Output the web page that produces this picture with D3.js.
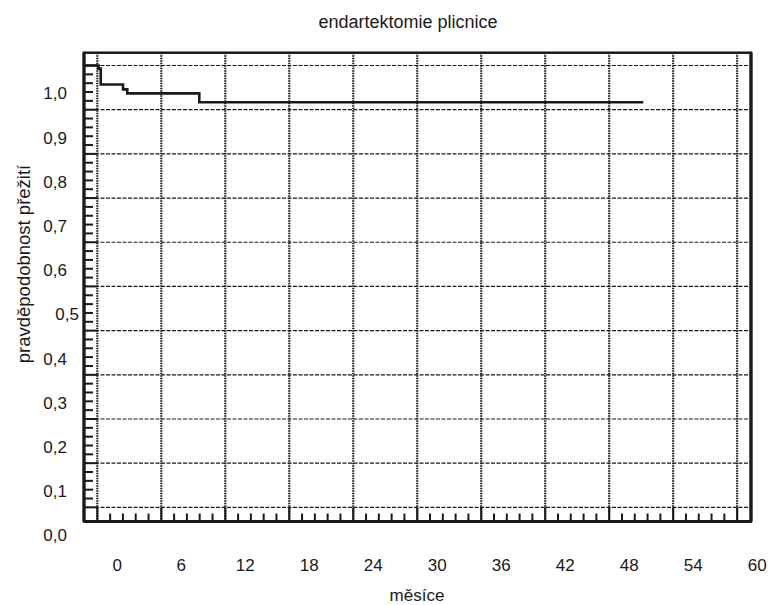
<!DOCTYPE html>
<html>
<head>
<meta charset="utf-8">
<script src="https://cdn.jsdelivr.net/npm/d3@7"></script>
<style>
  body { margin: 0; background: #fff; }
  text { font-family: "Liberation Sans", Arial, sans-serif; fill: #1a1a1a; }
</style>
</head>
<body>
<svg id="chart" width="768" height="605"></svg>
<script>
// ---- data ----
const title = "endartektomie plicnice";
const xTitle = "měsíce";
const yTitle = "pravděpodobnost přežití";
const xTickValues = [0, 6, 12, 18, 24, 30, 36, 42, 48, 54, 60];
const xTickLabels = ["0", "6", "12", "18", "24", "30", "36", "42", "48", "54", "60"];
const yTickValues = [0, 0.1, 0.2, 0.3, 0.4, 0.5, 0.6, 0.7, 0.8, 0.9, 1.0];
const yTickLabels = ["0,0", "0,1", "0,2", "0,3", "0,4", "0,5", "0,6", "0,7", "0,8", "0,9", "1,0"];
// Kaplan-Meier steps (months, survival after step)
const eventTimes = [0.12, 0.32, 2.41, 2.81, 9.56];
const survivalAfter = [0.993, 0.957, 0.946, 0.937, 0.917];
const startSurvival = 1.0;
const lastFollowUp = 51.2;

// ---- layout ----
const svg = d3.select("#chart");
const L = 84, R = 751, T = 52.7, B = 521.5;
const x = d3.scaleLinear().domain([-1.25, 61.3]).range([L, R]);
const y = d3.scaleLinear().domain([-0.032, 1.029]).range([B, T]);
const ink = "#1a1a1a";

// grid: horizontal
svg.append("g").selectAll("line").data(yTickValues).join("line")
  .attr("x1", L).attr("x2", R)
  .attr("y1", d => y(d)).attr("y2", d => y(d))
  .attr("stroke", ink).attr("stroke-width", 1.2)
  .attr("stroke-dasharray", "4,1.5");
// grid: vertical
svg.append("g").selectAll("line").data(xTickValues).join("line")
  .attr("x1", d => x(d)).attr("x2", d => x(d))
  .attr("y1", T).attr("y2", B)
  .attr("stroke", ink).attr("stroke-width", 2.2)
  .attr("stroke-dasharray", "1.5,1");

// solid major tick stubs
svg.append("g").selectAll("line").data(yTickValues).join("line")
  .attr("x1", L).attr("x2", x(0))
  .attr("y1", d => y(d)).attr("y2", d => y(d))
  .attr("stroke", ink).attr("stroke-width", 2);
svg.append("g").selectAll("line").data(xTickValues).join("line")
  .attr("x1", d => x(d)).attr("x2", d => x(d))
  .attr("y1", B).attr("y2", y(0))
  .attr("stroke", ink).attr("stroke-width", 2);

// minor ticks
const yMinor = d3.range(0, 50).map(i => i * 0.02).filter(v => Math.round(v * 50) % 5 !== 0);
svg.append("g").selectAll("line").data(yMinor).join("line")
  .attr("x1", L).attr("x2", L + 9)
  .attr("y1", d => y(d)).attr("y2", d => y(d))
  .attr("stroke", ink).attr("stroke-width", 2);
const xMinor = d3.range(0, 50).map(i => i * 1.2).filter((v, i) => i % 5 !== 0);
svg.append("g").selectAll("line").data(xMinor).join("line")
  .attr("x1", d => x(d)).attr("x2", d => x(d))
  .attr("y1", B).attr("y2", B - 8)
  .attr("stroke", ink).attr("stroke-width", 2);

// frame
svg.append("rect").attr("x", L).attr("y", T).attr("width", R - L).attr("height", B - T)
  .attr("fill", "none").attr("stroke", ink).attr("stroke-width", 2.5);
svg.append("line").attr("x1", L).attr("x2", L).attr("y1", T).attr("y2", B)
  .attr("stroke", ink).attr("stroke-width", 3.2);
svg.append("line").attr("x1", L).attr("x2", R).attr("y1", B).attr("y2", B)
  .attr("stroke", ink).attr("stroke-width", 3.2);
svg.append("line").attr("x1", R).attr("x2", R).attr("y1", T).attr("y2", B)
  .attr("stroke", ink).attr("stroke-width", 3.2);

// KM curve
const pts = [[x.domain()[0], startSurvival]];
let cur = startSurvival;
eventTimes.forEach((t, i) => { pts.push([t, cur]); cur = survivalAfter[i]; pts.push([t, cur]); });
pts.push([lastFollowUp, cur]);
svg.append("path")
  .attr("d", d3.line().x(d => x(d[0])).y(d => y(d[1]))(pts))
  .attr("fill", "none").attr("stroke", ink).attr("stroke-width", 2.6)
  .attr("stroke-linejoin", "miter");

// tick labels (offset from grid, as in the original)
svg.append("g").selectAll("text").data(yTickValues).join("text")
  .attr("x", (d, i) => yTickLabels[i] === "0,5" ? 79 : 67)
  .attr("y", d => y(d) + 28)
  .attr("dy", "0.35em")
  .attr("text-anchor", "end")
  .attr("font-size", 17)
  .text((d, i) => yTickLabels[i]);
svg.append("g").selectAll("text").data(xTickValues).join("text")
  .attr("x", d => x(d) + 20)
  .attr("y", 571)
  .attr("text-anchor", "middle")
  .attr("font-size", 17)
  .text((d, i) => xTickLabels[i]);

// titles
svg.append("text").attr("x", 408).attr("y", 28).attr("text-anchor", "middle")
  .attr("font-size", 18).text(title);
svg.append("text").attr("x", 417).attr("y", 601).attr("text-anchor", "middle")
  .attr("font-size", 17).text(xTitle);
svg.append("text").attr("transform", "translate(30,264) rotate(-90)")
  .attr("text-anchor", "middle").attr("font-size", 18.5).text(yTitle);
</script>
</body>
</html>
